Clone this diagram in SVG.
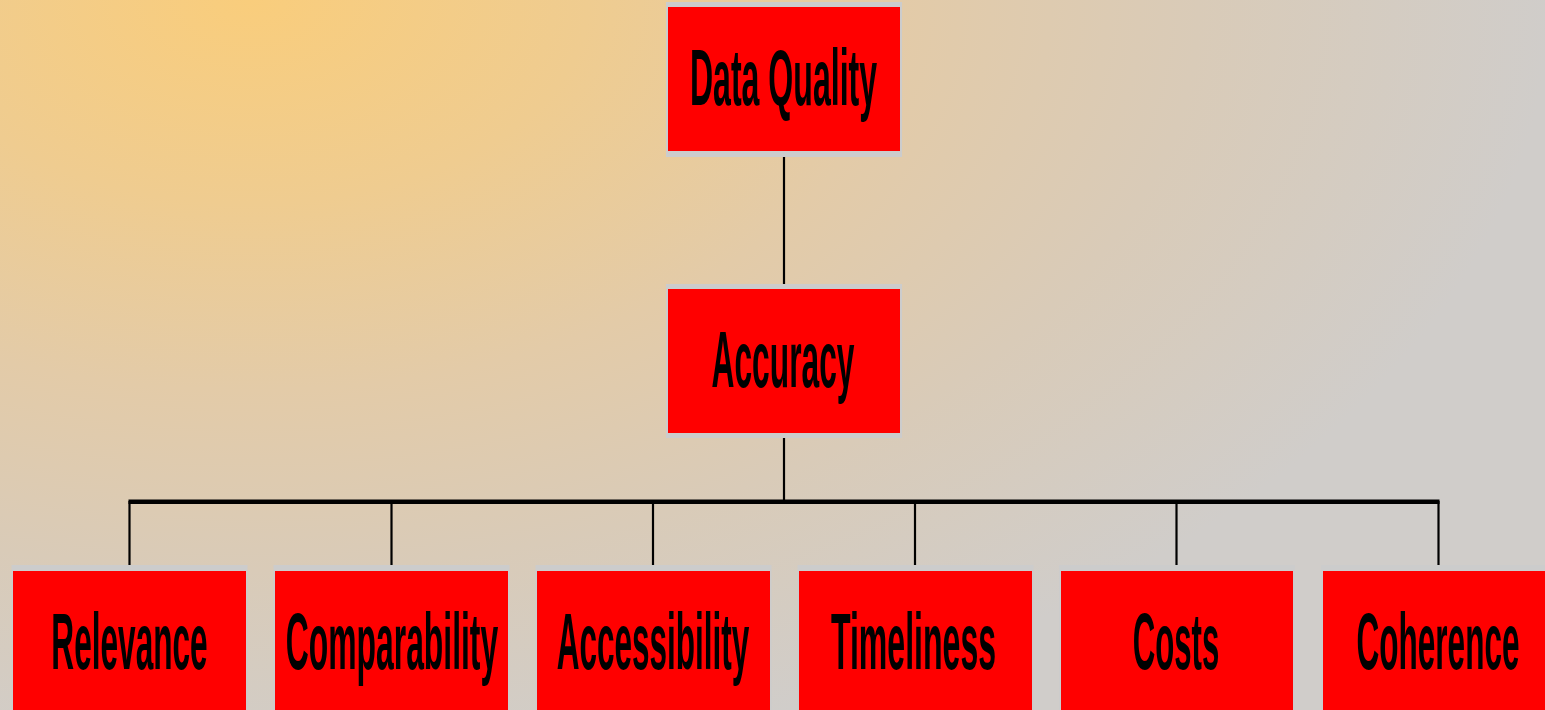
<svg xmlns="http://www.w3.org/2000/svg" width="1545" height="710" viewBox="0 0 1545 710">
  <defs>
    <!-- warm glow in the upper left fading to grey, squashed vertically -->
    <radialGradient id="bg" gradientUnits="userSpaceOnUse" cx="250" cy="0" r="1300"
        gradientTransform="translate(250 0) scale(1 0.6) translate(-250 0)">
      <stop offset="0" stop-color="#f9cd7c"/>
      <stop offset="0.26" stop-color="#efcc90"/>
      <stop offset="0.5" stop-color="#e3cba8"/>
      <stop offset="0.73" stop-color="#d9cbb8"/>
      <stop offset="1" stop-color="#d0cdca"/>
    </radialGradient>
  </defs>
  <style>
    .frame { fill: #cccccc; }
    .box { fill: #ff0000; }
    .label { font-family: "Liberation Sans", Arial, sans-serif; font-weight: bold; font-size: 80px; fill: #000000; text-anchor: middle; }
    .link { stroke: #000000; stroke-width: 2.2; fill: none; }
    .bar { stroke: #000000; stroke-width: 4.5; fill: none; }
  </style>

  <rect x="0" y="0" width="1545" height="710" fill="url(#bg)"/>

  <!-- connectors -->
  <g id="connectors">
    <line class="link" x1="784" y1="157" x2="784" y2="284"/>
    <line class="link" x1="784" y1="438" x2="784" y2="501"/>
    <line class="bar" x1="128.5" y1="501.8" x2="1439.5" y2="501.8"/>
    <line class="link" x1="129.5" y1="501" x2="129.5" y2="565"/>
    <line class="link" x1="391.5" y1="501" x2="391.5" y2="565"/>
    <line class="link" x1="653" y1="501" x2="653" y2="565"/>
    <line class="link" x1="915" y1="501" x2="915" y2="565"/>
    <line class="link" x1="1176.5" y1="501" x2="1176.5" y2="565"/>
    <line class="link" x1="1438.5" y1="501" x2="1438.5" y2="565"/>
  </g>

  <!-- top level -->
  <g id="data-quality">
    <rect class="frame" x="666" y="2" width="236" height="155"/>
    <rect class="box" x="668" y="7" width="232" height="144"/>
    <text class="label" transform="translate(783.5 105) scale(0.401 1)">Data Quality</text>
  </g>

  <g id="accuracy">
    <rect class="frame" x="666" y="284" width="236" height="154"/>
    <rect class="box" x="668" y="289" width="232" height="144"/>
    <text class="label" transform="translate(783 387) scale(0.397 1)">Accuracy</text>
  </g>

  <!-- dimensions -->
  <g id="relevance">
    <rect class="frame" x="11.5" y="565" width="236" height="150"/>
    <rect class="box" x="13" y="571" width="233" height="144"/>
    <text class="label" transform="translate(129.5 669) scale(0.395 1)">Relevance</text>
  </g>

  <g id="comparability">
    <rect class="frame" x="273.5" y="565" width="236" height="150"/>
    <rect class="box" x="275" y="571" width="233" height="144"/>
    <text class="label" transform="translate(392 669) scale(0.398 1)">Comparability</text>
  </g>

  <g id="accessibility">
    <rect class="frame" x="535.5" y="565" width="236" height="150"/>
    <rect class="box" x="537" y="571" width="233" height="144"/>
    <text class="label" transform="translate(653 669) scale(0.394 1)">Accessibility</text>
  </g>

  <g id="timeliness">
    <rect class="frame" x="797.5" y="565" width="236" height="150"/>
    <rect class="box" x="799" y="571" width="233" height="144"/>
    <text class="label" transform="translate(913.5 669) scale(0.401 1)">Timeliness</text>
  </g>

  <g id="costs">
    <rect class="frame" x="1059" y="565" width="236" height="150"/>
    <rect class="box" x="1061" y="571" width="232" height="144"/>
    <text class="label" transform="translate(1176 669) scale(0.39 1)">Costs</text>
  </g>

  <g id="coherence">
    <rect class="frame" x="1321" y="565" width="236" height="150"/>
    <rect class="box" x="1323" y="571" width="232" height="144"/>
    <text class="label" transform="translate(1438 669) scale(0.394 1)">Coherence</text>
  </g>
</svg>
